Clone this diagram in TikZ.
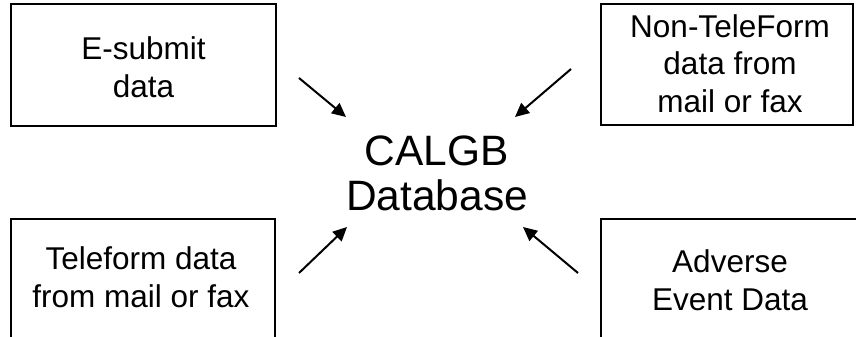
\documentclass[tikz,border=0pt]{standalone}
\usepackage{fontspec}
\setmainfont{Liberation Sans}
\usetikzlibrary{arrows.meta}
\tikzset{
  srcbox/.style={draw=black, line width=1.5pt, fill=none},
  boxtext/.style={align=center, font=\fontsize{31.5}{37.5}\selectfont, inner sep=0pt, anchor=base},
  dbtext/.style={align=center, font=\fontsize{42.5}{45}\selectfont, inner sep=0pt, anchor=base},
  feed/.style={line width=2pt, -{Triangle[length=14pt,width=13pt]}}
}
\begin{document}
\begin{tikzpicture}[x=1pt,y=-1pt]
\useasboundingbox (0,0) rectangle (856,337);
\clip (0,0) rectangle (856,337);
% boxes
\draw[srcbox] (11,4) rectangle (276,126);
\draw[srcbox] (601,4) rectangle (853,125);
\draw[srcbox] (11,219) rectangle (275,350);
\draw[srcbox] (601,219) rectangle (870,350);
% texts (anchor base = baseline of last line)
\node[boxtext] (esub) at (143.5,97) {E-submit\\data};
\node[boxtext] (nontf) at (730,112) {Non-TeleForm\\data from\\mail or fax};
\node[boxtext] (telef) at (141,307) {Teleform data\\from mail or fax};
\node[boxtext] (adv) at (730,310) {Adverse\\Event Data};
\node[dbtext] (db) at (437,210) {CALGB\\Database};
% arrows
\coordinate (s1) at (299,78);  \coordinate (e1) at (346,117);
\coordinate (s2) at (571,69);  \coordinate (e2) at (515,117);
\coordinate (s3) at (299,273); \coordinate (e3) at (347,227);
\coordinate (s4) at (578,273); \coordinate (e4) at (523,227);
\draw[feed] (s1) -- (e1);
\draw[feed] (s2) -- (e2);
\draw[feed] (s3) -- (e3);
\draw[feed] (s4) -- (e4);
\end{tikzpicture}
\end{document}
